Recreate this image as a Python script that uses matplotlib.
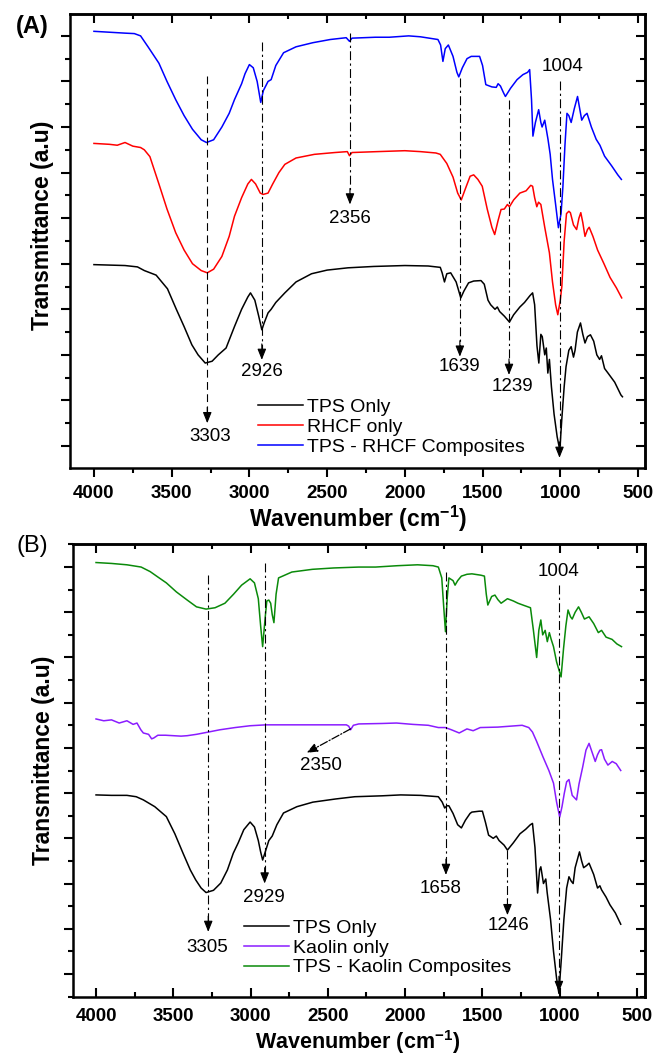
import matplotlib
matplotlib.use('Agg')
import matplotlib.pyplot as plt
from matplotlib.ticker import MultipleLocator

plt.rcParams['font.family'] = ['Liberation Sans', 'DejaVu Sans']
plt.rcParams['mathtext.default'] = 'regular'

# ---------------- panel A data (wavenumber, transmittance in tick units) ----------------
tps_a_wn = [4000, 3900, 3800, 3720, 3676, 3600, 3527, 3470, 3420, 3370, 3330, 3284, 3240, 3200,
            3150, 3096, 3050, 3010, 2993, 2965, 2940, 2920, 2905, 2880, 2860, 2830, 2772, 2700,
            2600, 2500, 2366, 2200, 2000, 1850, 1772, 1760, 1745, 1730, 1705, 1670, 1640, 1620,
            1590, 1557, 1510, 1489, 1465, 1448, 1420, 1405, 1390, 1360, 1327, 1300, 1260, 1230,
            1195, 1178, 1165, 1150, 1138, 1125, 1116, 1100, 1090, 1080, 1070, 1057, 1040, 1020,
            1003, 990, 975, 963, 945, 930, 915, 905, 890, 870, 855, 841, 825, 806, 785, 765,
            747, 735, 715, 693, 650, 610, 600]
tps_a_t = [3.98, 3.97, 3.96, 3.93, 3.85, 3.75, 3.45, 3.0, 2.62, 2.22, 2.0, 1.82, 1.86, 2.0,
           2.15, 2.62, 3.0, 3.27, 3.36, 3.2, 2.85, 2.55, 2.7, 2.92, 3.0, 3.15, 3.36, 3.6,
           3.78, 3.86, 3.91, 3.94, 3.96, 3.95, 3.92, 3.8, 3.6, 3.78, 3.8, 3.6, 3.25, 3.4,
           3.58, 3.62, 3.63, 3.55, 3.2, 3.1, 3.0, 3.05, 2.95, 2.85, 2.72, 2.88, 3.05, 3.15,
           3.3, 3.36, 3.1, 2.2, 1.82, 2.45, 2.4, 2.0, 2.15, 1.6, 1.9, 1.3, 0.7, 0.2,
           -0.09, 0.6, 1.3, 1.74, 2.1, 2.18, 1.95, 2.1, 2.5, 2.7, 2.45, 2.26, 2.4, 2.44, 2.3, 2.0,
           1.9, 1.98, 1.7, 1.6, 1.4, 1.12, 1.08]

rhcf_wn = [4000, 3900, 3850, 3800, 3750, 3700, 3676, 3640, 3582, 3530, 3474, 3420, 3366, 3310,
           3271, 3230, 3177, 3130, 3096, 3050, 3010, 2987, 2960, 2930, 2912, 2880, 2850, 2810,
           2772, 2700, 2582, 2450, 2370, 2356, 2340, 2177, 2000, 1900, 1800, 1772, 1730, 1690,
           1660, 1637, 1610, 1580, 1557, 1530, 1502, 1470, 1440, 1422, 1400, 1381, 1360, 1340,
           1327, 1300, 1260, 1220, 1190, 1178, 1165, 1151, 1140, 1125, 1100, 1070, 1050, 1030,
           1016, 1000, 990, 975, 960, 945, 935, 915, 895, 880, 868, 855, 841, 825, 814, 790,
           760, 719, 680, 639, 605]
rhcf_t = [6.64, 6.62, 6.6, 6.66, 6.58, 6.55, 6.5, 6.35, 5.75, 5.2, 4.68, 4.3, 4.0, 3.85,
          3.8, 3.88, 4.16, 4.6, 5.04, 5.45, 5.75, 5.85, 5.75, 5.55, 5.52, 5.55, 5.75, 6.0,
          6.18, 6.32, 6.4, 6.44, 6.46, 6.37, 6.44, 6.46, 6.48, 6.46, 6.43, 6.4, 6.2, 5.9,
          5.55, 5.4, 5.65, 5.92, 5.95, 5.85, 5.7, 5.2, 4.8, 4.64, 4.95, 5.19, 5.2, 5.3,
          5.25, 5.4, 5.55, 5.6, 5.72, 5.7, 5.45, 5.25, 5.35, 5.3, 4.8, 4.24, 3.6, 3.1,
          2.88, 3.2, 3.5, 4.5, 5.1, 5.15, 5.12, 4.85, 4.75, 5.0, 5.12, 4.9, 4.6, 4.75, 4.8, 4.6,
          4.3, 4.0, 3.7, 3.47, 3.25]

tps_rhcf_wn = [4000, 3900, 3800, 3740, 3700, 3650, 3582, 3530, 3474, 3420, 3366, 3310, 3276, 3230,
               3177, 3130, 3096, 3050, 3028, 3000, 2975, 2950, 2935, 2927, 2910, 2880, 2860, 2830,
               2780, 2700, 2592, 2480, 2377, 2356, 2340, 2190, 2100, 1975, 1900, 1787, 1770, 1755,
               1740, 1720, 1690, 1665, 1653, 1630, 1600, 1573, 1519, 1500, 1479, 1440, 1412, 1400,
               1385, 1365, 1353, 1320, 1278, 1240, 1210, 1197, 1185, 1176, 1160, 1139, 1125, 1117,
               1100, 1079, 1065, 1050, 1030, 1012, 995, 983, 970, 957, 945, 930, 910, 889, 875,
               862, 845, 828, 800, 769, 745, 715, 670, 630, 607]
tps_rhcf_t = [9.1, 9.08, 9.06, 9.05, 9.0, 8.75, 8.4, 8.0, 7.6, 7.25, 6.95, 6.72, 6.66, 6.72,
              7.0, 7.3, 7.6, 7.95, 8.17, 8.37, 8.3, 8.0, 7.7, 7.54, 7.8, 8.0, 8.04, 8.35,
              8.63, 8.76, 8.85, 8.92, 8.96, 8.88, 8.95, 8.97, 8.97, 9.0, 8.98, 8.92, 8.8, 8.44,
              8.72, 8.8, 8.55, 8.2, 8.1, 8.3, 8.5, 8.55, 8.55, 8.35, 7.93, 7.88, 7.87, 7.95,
              7.9, 7.75, 7.67, 7.85, 8.04, 8.15, 8.2, 8.26, 7.6, 6.8, 7.1, 7.38, 7.1, 7.0,
              7.15, 6.73, 6.4, 5.85, 5.3, 4.79, 5.1, 5.7, 6.6, 7.3, 7.25, 7.1, 7.4, 7.67, 7.4,
              7.15, 7.25, 7.3, 7.0, 6.73, 6.6, 6.36, 6.15, 5.95, 5.85]

# ---------------- panel B data ----------------
tps_b_wn = [4000, 3900, 3800, 3740, 3694, 3620, 3545, 3490, 3437, 3390, 3355, 3320, 3288, 3240,
            3193, 3150, 3112, 3080, 3044, 3003, 2975, 2950, 2935, 2922, 2905, 2882, 2860, 2830,
            2787, 2700, 2597, 2450, 2326, 2150, 2029, 1900, 1785, 1760, 1744, 1730, 1717, 1690,
            1660, 1636, 1610, 1580, 1568, 1520, 1500, 1480, 1460, 1430, 1410, 1392, 1360, 1338,
            1300, 1257, 1220, 1190, 1176, 1160, 1143, 1130, 1122, 1105, 1090, 1081, 1070, 1059,
            1040, 1020, 1005, 990, 973, 955, 940, 925, 913, 900, 872, 858, 845, 825, 810, 780,
            755, 740, 729, 700, 675, 640, 605]
tps_b_t = [3.96, 3.95, 3.95, 3.92, 3.85, 3.7, 3.48, 3.1, 2.67, 2.3, 2.08, 1.9, 1.8, 1.85,
           2.01, 2.3, 2.67, 2.9, 3.19, 3.36, 3.25, 2.95, 2.7, 2.52, 2.7, 2.95, 3.05, 3.3,
           3.56, 3.7, 3.8, 3.87, 3.92, 3.94, 3.96, 3.95, 3.92, 3.8, 3.67, 3.72, 3.72, 3.55,
           3.3, 3.23, 3.4, 3.55, 3.58, 3.6, 3.6, 3.35, 3.07, 3.0, 3.05, 2.95, 2.85, 2.74,
           2.9, 3.1, 3.2, 3.3, 3.33, 2.8, 1.79, 2.3, 2.37, 2.0, 2.1, 1.8, 1.5, 1.2,
           0.5, -0.1, -0.43, 0.3, 1.2, 1.9, 2.15, 2.05, 2.0, 2.35, 2.7, 2.5, 2.35, 2.4, 2.45, 2.2,
           1.9, 1.95, 1.86, 1.7, 1.53, 1.35, 1.1]

kaolin_wn = [4000, 3950, 3900, 3850, 3800, 3760, 3735, 3710, 3694, 3660, 3640, 3626, 3600, 3550,
             3500, 3450, 3410, 3350, 3274, 3200, 3100, 3003, 2900, 2733, 2500, 2380, 2365, 2353,
             2335, 2300, 2150, 2056, 1950, 1850, 1785, 1740, 1700, 1650, 1600, 1560, 1514, 1400,
             1243, 1200, 1176, 1150, 1108, 1070, 1040, 1020, 1000, 985, 970, 955, 940, 925, 919,
             905, 891, 875, 851, 830, 810, 790, 770, 755, 740, 729, 710, 688, 660, 634, 605]
kaolin_t = [5.64, 5.6, 5.62, 5.55, 5.6, 5.52, 5.55, 5.4, 5.33, 5.3, 5.2, 5.22, 5.28, 5.28,
            5.27, 5.26, 5.27, 5.3, 5.35, 5.4, 5.45, 5.49, 5.51, 5.51, 5.51, 5.51, 5.48, 5.4,
            5.5, 5.53, 5.54, 5.55, 5.52, 5.5, 5.45, 5.45, 5.4, 5.33, 5.42, 5.38, 5.45, 5.46,
            5.5, 5.45, 5.35, 5.15, 4.8, 4.5, 4.22, 3.8, 3.47, 3.7, 4.0, 4.25, 4.3, 4.05, 3.95,
            3.9, 3.85, 4.2, 4.58, 4.95, 5.1, 4.9, 4.7, 4.85, 4.95, 4.96, 4.75, 4.62, 4.7, 4.65, 4.5]

tps_kaolin_wn = [4000, 3900, 3800, 3708, 3650, 3600, 3545, 3480, 3410, 3350, 3288, 3230, 3166, 3110,
                 3058, 3003, 2975, 2950, 2935, 2922, 2905, 2895, 2882, 2870, 2860, 2849, 2835, 2819,
                 2733, 2600, 2462, 2300, 2191, 2050, 1920, 1820, 1785, 1763, 1750, 1739, 1728, 1717,
                 1690, 1677, 1660, 1636, 1600, 1568, 1510, 1487, 1475, 1465, 1440, 1419, 1400, 1379,
                 1338, 1300, 1270, 1230, 1189, 1170, 1149, 1135, 1122, 1110, 1094, 1080, 1067, 1055,
                 1040, 1020, 991, 975, 960, 946, 930, 919, 900, 878, 860, 840, 810, 780, 750, 729,
                 700, 661, 630, 600]
tps_kaolin_t = [9.1, 9.08, 9.05, 9.0, 8.9, 8.78, 8.65, 8.45, 8.27, 8.12, 8.07, 8.1, 8.2, 8.4,
                8.6, 8.74, 8.65, 8.3, 7.7, 7.24, 7.9, 8.25, 8.27, 8.2, 7.95, 7.77, 8.4, 8.76,
                8.89, 8.95, 8.98, 9.0, 9.0, 9.03, 9.05, 9.03, 9.0, 8.76, 8.1, 7.57, 8.3, 8.76,
                8.7, 8.6, 8.7, 8.8, 8.84, 8.85, 8.82, 8.8, 8.4, 8.16, 8.35, 8.38, 8.28, 8.2,
                8.3, 8.25, 8.2, 8.15, 8.1, 7.6, 7.0, 7.6, 7.83, 7.5, 7.6, 7.35, 7.55, 7.4,
                7.24, 6.9, 6.57, 7.2, 7.7, 8.05, 7.9, 7.85, 8.0, 8.12, 8.0, 7.85, 7.9, 7.75, 7.55, 7.6,
                7.45, 7.4, 7.3, 7.24]

# peak markers: x, line top, arrow tip, label, label x, label y, style
peaks_a_x = [3271, 2920, 2353, 1646, 1330, 1005]
peaks_a_top = [8.13, 8.86, 9.07, 8.08, 7.6, 8.0]
peaks_a_tip = [0.5, 1.89, 5.3, 1.96, 1.56, -0.26]
peaks_a_lab = ['3303', '2926', '2356', '1639', '1239', '1004']
peaks_a_lx = [3250, 2919, 2351, 1648, 1310, 985]
peaks_a_ly = [0.2, 1.63, 5.0, 1.74, 1.3, 8.33]
peaks_a_ls = ['--', '-.', '-.', '-.', '-.', '-.']

peaks_b_x = [3274, 2909, 1736, 1338, 1005]
peaks_b_top = [8.83, 9.1, 8.9, 2.74, 8.6]
peaks_b_tip = [0.93, 2.0, 2.19, 1.3, -0.4]
peaks_b_lab = ['3305', '2929', '1658', '1246', '1004']
peaks_b_lx = [3282, 2917, 1771, 1330, 1005]
peaks_b_ly = [0.58, 1.7, 1.9, 1.08, 8.9]

co2_b_from = (2353, 5.42)
co2_b_to = (2638, 4.89)
co2_b_lab = (2543, 4.62)

W, H = 654, 1055
fig = plt.figure(figsize=(W / 100, H / 100), dpi=100)

dashdot = (0, (8, 3, 2, 3))
dashed = (0, (7, 4))


def frame(ax, xlim, ylim, bottom_dir):
    ax.set_xlim(*xlim)
    ax.set_ylim(*ylim)
    ax.xaxis.set_major_locator(MultipleLocator(500))
    ax.xaxis.set_minor_locator(MultipleLocator(250))
    ax.yaxis.set_major_locator(MultipleLocator(1))
    ax.yaxis.set_minor_locator(MultipleLocator(0.5))
    for s in ax.spines.values():
        s.set_linewidth(1.8)
    ax.tick_params(axis='x', which='both', direction=bottom_dir, bottom=True, top=False,
                   width=1.5, labelsize=13.5)
    ax.tick_params(axis='x', which='major', length=6.5,
                   pad=5.5 if bottom_dir == 'out' else 8)
    ax.tick_params(axis='x', which='minor', length=3.5)
    ax.tick_params(axis='y', which='both', direction='out', left=True, right=False,
                   labelleft=False, width=1.5)
    ax.tick_params(axis='y', which='major', length=6.5)
    ax.tick_params(axis='y', which='minor', length=3.5)
    for lab in ax.get_xticklabels():
        lab.set_fontweight('bold')
    # mirrored ticks on top and right, pointing in
    top = ax.secondary_xaxis('top')
    top.xaxis.set_major_locator(MultipleLocator(500))
    top.xaxis.set_minor_locator(MultipleLocator(250))
    top.tick_params(which='both', direction='in', width=1.5, labeltop=False)
    top.tick_params(which='major', length=6.5)
    top.tick_params(which='minor', length=3.5)
    top.spines['top'].set_linewidth(1.8)
    right = ax.secondary_yaxis('right')
    right.yaxis.set_major_locator(MultipleLocator(1))
    right.yaxis.set_minor_locator(MultipleLocator(0.5))
    right.tick_params(which='both', direction='in', width=1.5, labelright=False)
    right.tick_params(which='major', length=6.5)
    right.tick_params(which='minor', length=3.5)
    right.spines['right'].set_linewidth(1.8)


def marker(ax, x, top, tip, ls):
    ax.plot([x, x], [top, tip + 0.2], color='k', lw=0.8, linestyle=ls)
    ax.annotate('', xy=(x, tip), xytext=(x, tip + 0.35),
                arrowprops=dict(arrowstyle='-|>,head_length=0.55,head_width=0.22',
                                color='k', lw=0.8, shrinkA=0, shrinkB=0, mutation_scale=12))


# ---------------- panel A ----------------
ax1 = fig.add_axes([70 / W, 1 - 468 / H, 575 / W, 454 / H])
l1, = ax1.plot(tps_a_wn, tps_a_t, color='black', lw=1.1, label='TPS Only')
l2, = ax1.plot(rhcf_wn, rhcf_t, color='#ff0000', lw=1.1, label='RHCF only')
l3, = ax1.plot(tps_rhcf_wn, tps_rhcf_t, color='#0000ff', lw=1.1, label='TPS - RHCF Composites')
frame(ax1, (4154, 455), (-0.483, 9.48), 'out')

for i in range(len(peaks_a_x)):
    marker(ax1, peaks_a_x[i], peaks_a_top[i], peaks_a_tip[i], dashed if peaks_a_ls[i] == '--' else dashdot)
    ax1.text(peaks_a_lx[i], peaks_a_ly[i], peaks_a_lab[i], fontsize=13.5, ha='center', va='center')

ax1.legend(handles=[l1, l2, l3], loc='center left', bbox_to_anchor=(2946, 0.42),
           bbox_transform=ax1.transData, frameon=False, fontsize=14, borderpad=0,
           borderaxespad=0, handlelength=2.35, handletextpad=0.2, labelspacing=0.12)

ax1.set_xlabel('Wavenumber (cm$^{-1}$)', fontsize=16.5, fontweight='bold', va='center')
ax1.xaxis.set_label_coords(0.501, -0.112)
ax1.set_ylabel('Transmittance (a.u)', fontsize=16.5, fontweight='bold', va='center')
ax1.yaxis.set_label_coords(-0.047, 0.535)
fig.text(32 / W, 1 - 26 / H, '(A)', fontsize=17, fontweight='bold', ha='center', va='center')

# ---------------- panel B ----------------
ax2 = fig.add_axes([73 / W, 1 - 997 / H, 572 / W, 453 / H])
m1, = ax2.plot(tps_b_wn, tps_b_t, color='black', lw=1.1, label='TPS Only')
m2, = ax2.plot(kaolin_wn, kaolin_t, color='#8a1cff', lw=1.1, label='Kaolin only')
m3, = ax2.plot(tps_kaolin_wn, tps_kaolin_t, color='#0a8a0a', lw=1.1, label='TPS - Kaolin Composites')
frame(ax2, (4149, 448), (-0.51, 9.51), 'in')

for i in range(len(peaks_b_x)):
    marker(ax2, peaks_b_x[i], peaks_b_top[i], peaks_b_tip[i], dashdot)
    ax2.text(peaks_b_lx[i], peaks_b_ly[i], peaks_b_lab[i], fontsize=13.5, ha='center', va='center')

ax2.annotate('', xy=co2_b_to, xytext=co2_b_from,
             arrowprops=dict(arrowstyle='-|>,head_length=0.55,head_width=0.22', color='k',
                             lw=0.9, linestyle='-.', shrinkA=0, shrinkB=0, mutation_scale=12))
ax2.text(co2_b_lab[0], co2_b_lab[1], '2350', fontsize=13.5, ha='center', va='center')

ax2.legend(handles=[m1, m2, m3], loc='center left', bbox_to_anchor=(3044, 0.58),
           bbox_transform=ax2.transData, frameon=False, fontsize=14, borderpad=0,
           borderaxespad=0, handlelength=2.35, handletextpad=0.2, labelspacing=0.12)

ax2.set_xlabel('Wavenumber (cm$^{-1}$)', fontsize=15.5, fontweight='bold', va='center')
ax2.xaxis.set_label_coords(0.498, -0.0993)
ax2.set_ylabel('Transmittance (a.u)', fontsize=16.5, fontweight='bold', va='center')
ax2.yaxis.set_label_coords(-0.052, 0.523)
fig.text(32 / W, 1 - 546 / H, '(B)', fontsize=17, ha='center', va='center')

fig.savefig('out.png', dpi=100)
